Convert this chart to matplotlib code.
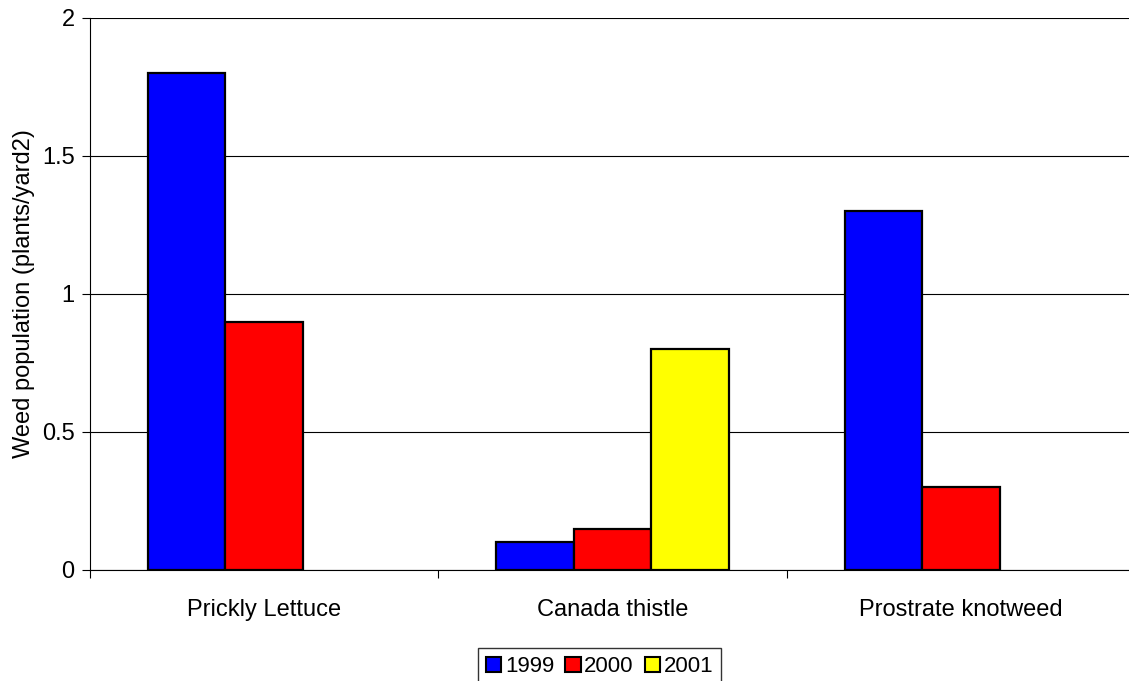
import numpy as np
import matplotlib
matplotlib.use("Agg")
import matplotlib.pyplot as plt

categories = ["Prickly Lettuce", "Canada thistle", "Prostrate knotweed"]
years = ["1999", "2000", "2001"]
v1999 = [1.8, 0.1, 1.3]
v2000 = [0.9, 0.15, 0.3]
v2001 = [0.0, 0.8, 0.0]
colors = ["#0000ff", "#ff0000", "#ffff00"]

plt.rcParams["font.family"] = ["Liberation Sans", "DejaVu Sans"]
plt.rcParams["font.size"] = 17

fig = plt.figure(figsize=(11.29, 6.81), dpi=100)
# plot area runs past the right edge of the image, as in the reference
ax = fig.add_axes([0.0797, 0.163, 0.9256, 0.8107])

x = np.arange(len(categories))
w = 1 / 4.5  # gap width 150%
series = [v1999, v2000, v2001]
for i, (vals, c) in enumerate(zip(series, colors)):
    pos = x - 0.5 + 0.75 * w + w * (i + 0.5)
    for p, v in zip(pos, vals):
        if v > 0:
            ax.bar(p, v, width=w, color=c, edgecolor="black", linewidth=1.6, zorder=3)

ax.set_xlim(-0.5, 2.5)
ax.set_ylim(0, 2)
ax.set_yticks([0, 0.5, 1, 1.5, 2])
ax.set_yticklabels(["0", "0.5", "1", "1.5", "2"])
ax.yaxis.grid(True, color="black", linewidth=0.8, zorder=0)
ax.set_xticks([-0.5, 0.5, 1.5, 2.5])
ax.set_xticklabels([])
ax.set_xticks(x, minor=True)
ax.set_xticklabels(categories, minor=True)
ax.tick_params(axis="x", which="minor", length=0, pad=21)
ax.tick_params(axis="x", which="major", length=6, direction="out")
ax.tick_params(axis="y", length=6, direction="out", pad=5)
ax.spines["top"].set_visible(False)
ax.spines["right"].set_visible(False)
ax.set_ylabel("Weed population (plants/yard2)", labelpad=5)

handles = [plt.Rectangle((0, 0), 1, 1, facecolor=c, edgecolor="black", linewidth=1.5) for c in colors]
leg = fig.legend(handles, years, loc="lower center", bbox_to_anchor=(0.531, -0.022), ncol=3,
                 frameon=True, fancybox=False, edgecolor="black", handlelength=0.7,
                 handleheight=0.7, handletextpad=0.15, columnspacing=0.5, borderpad=0.35,
                 fontsize=16)
leg.get_frame().set_linewidth(1.0)

fig.savefig("out.png", dpi=100)
